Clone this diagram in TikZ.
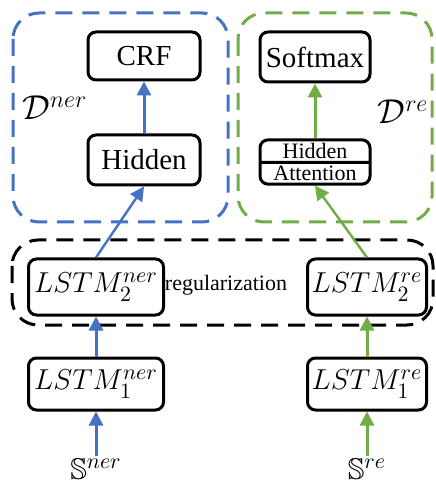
\documentclass[tikz,border=0pt]{standalone}
\usepackage{amssymb}
\usepackage{fontspec}
\setmainfont{Liberation Serif}
\usepackage{tikz}
\usetikzlibrary{arrows.meta}
\usetikzlibrary{shapes.multipart}
\definecolor{nerblue}{RGB}{68,114,196}
\definecolor{regreen}{RGB}{112,173,71}

\begin{document}
\begin{tikzpicture}[x=0.5pt,y=-0.5pt,>={Triangle[length=7pt,width=7pt]},
	blk/.style={draw,line width=1.5pt,rounded corners=4pt,inner sep=0pt,font=\fontsize{14.5}{16}\selectfont},
	lstm/.style={blk,minimum height=28pt,font=\fontsize{15}{17}\selectfont},
	grp/.style={line width=1.5pt,dash pattern=on 8.5pt off 5pt,rounded corners=13pt},
	flow/.style={->,line width=1.5pt}]
	\useasboundingbox (0,0) rectangle (435,485);
	
	\draw[grp,nerblue] (13,13) rectangle (228,222);
	\draw[grp,regreen] (238,13) rectangle (432,222);
	\draw[grp] (12,240) rectangle (433,325);
	
	\node[blk,minimum width=56pt,minimum height=24pt] (crf) at (144,56) {CRF};
	\node[blk,minimum width=56pt,minimum height=25pt] (hidn) at (144,160) {Hidden};
	\node[blk,minimum width=55pt,minimum height=25pt] (soft) at (315,57) {Softmax};
	\node[blk,rectangle split,rectangle split parts=2,text width=55pt,align=center,inner ysep=1pt,font=\fontsize{11}{12}\selectfont] (hidatt) at (315,162) {Hidden\nodepart{second}Attention};
	
	\node[font=\fontsize{17}{19}\selectfont] (dner) at (55,108) {$\mathcal{D}^{ner}$};
	\node[font=\fontsize{17}{19}\selectfont] (dre) at (403,112) {$\mathcal{D}^{re}$};
	
	\node[lstm,minimum width=67.5pt] (lstm2n) at (96,287) {$LSTM_2^{ner}$};
	\node[lstm,minimum width=59.5pt] (lstm2r) at (367,287) {$LSTM_2^{re}$};
	\node[font=\fontsize{11}{12}\selectfont] (reg) at (226,285) {regularization};
	\node[lstm,minimum width=67.5pt,minimum height=26pt] (lstm1n) at (96,384) {$LSTM_1^{ner}$};
	\node[lstm,minimum width=59.5pt,minimum height=26pt] (lstm1r) at (367,384) {$LSTM_1^{re}$};
	
	\node[inner sep=1pt,font=\fontsize{15}{17}\selectfont] (sner) at (96,469) {$\mathbb{S}^{ner}$};
	\node[inner sep=1pt,font=\fontsize{15}{17}\selectfont] (sre) at (367,469) {$\mathbb{S}^{re}$};
	
	\draw[flow,nerblue] (hidn) -- (crf);
	\draw[flow,nerblue,line width=1.2pt] (lstm2n.north) -- (hidn.south);
	\draw[flow,nerblue] (lstm1n) -- (lstm2n);
	\draw[flow,nerblue] (sner.north -| lstm1n) -- (lstm1n);
	\draw[flow,regreen] (hidatt) -- (soft);
	\draw[flow,regreen,line width=1.2pt] (lstm2r.north) -- (hidatt.south);
	\draw[flow,regreen] (lstm1r) -- (lstm2r);
	\draw[flow,regreen] (sre.north -| lstm1r) -- (lstm1r);
\end{tikzpicture}
\end{document}
